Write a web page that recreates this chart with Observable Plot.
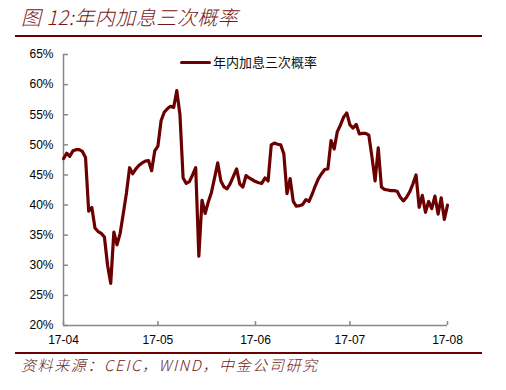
<!DOCTYPE html>
<html><head><meta charset="utf-8">
<script src="https://cdn.jsdelivr.net/npm/d3@7"></script>
<script src="https://cdn.jsdelivr.net/npm/@observablehq/plot@0.6"></script>
<style>
body{margin:0;background:#fff;}
#wrap{position:relative;width:506px;height:390px;overflow:hidden;font-family:"Liberation Sans",Arial,sans-serif;}
#wrap svg{position:absolute;left:0;top:0;}
.title{position:absolute;left:21px;top:3px;font-size:20px;font-style:italic;color:#7a1616;font-family:"Noto Sans CJK SC",sans-serif;white-space:nowrap;line-height:28px;letter-spacing:0.5px;font-weight:300;}
.rule{position:absolute;left:15px;width:467px;height:2px;background:#6b0000;}
.caption{position:absolute;left:21px;top:354px;font-size:15px;font-style:italic;color:#6e1a1a;font-family:"Noto Sans CJK SC",sans-serif;white-space:nowrap;line-height:22px;letter-spacing:1.6px;font-weight:300;}
.leg-line{position:absolute;left:180px;top:61px;width:31px;height:3px;background:#6b0000;border-radius:2px;}
.leg-text{position:absolute;left:213px;top:53px;font-size:13px;color:#111;font-family:"Noto Sans CJK SC",sans-serif;white-space:nowrap;line-height:18px;}
</style>
</head><body>
<div id="wrap"></div>
<script>
const titleText = "图 12:年内加息三次概率";
const captionText = "资料来源：CEIC，WIND，中金公司研究";
const seriesName = "年内加息三次概率";

// daily values (%), index = day of month - 1
const aprValues = [47.7,48.6,48.1,49.0,49.2,49.2,48.9,47.9,39.0,39.6,36.2,35.6,35.3,34.7,30.0,27.0,35.5,33.4,35.3,38.6,42.0,46.2,45.2,46.0,46.6,47.0,47.3,47.4,45.7,49.0];
const mayValues = [49.8,54.0,55.4,56.0,56.4,56.2,59.0,55.0,44.5,43.6,43.9,45.0,46.2,31.5,40.8,38.6,40.5,42.1,44.5,47.0,44.0,43.0,42.7,43.6,44.8,46.0,43.5,43.0,44.9,44.5,44.2];
const junValues = [43.9,43.7,43.6,44.5,44.0,50.0,50.3,50.1,50.0,48.5,41.9,44.4,40.6,39.8,39.9,40.1,40.9,40.6,41.8,43.2,44.4,45.2,45.9,46.0,50.7,49.3,52.2,53.3,54.6,55.3];
const julValues = [53.3,52.8,53.4,51.8,51.9,51.9,51.6,48.0,44.0,49.5,43.0,42.6,42.5,42.4,42.4,42.3,41.3,40.7,41.3,42.2,43.5,45.0,39.6,41.6,38.8,40.6,39.4,41.5,38.5,41.2,37.6];
const augValues = [40.0];

const yTicks = [20,25,30,35,40,45,50,55,60,65];
const xTickLabels = ["17-04","17-05","17-06","17-07","17-08"];

const months = [[3,aprValues],[4,mayValues],[5,junValues],[6,julValues],[7,augValues]];
const data = [];
for (const [m, vals] of months) vals.forEach((v,i) => data.push({date: new Date(Date.UTC(2017, m, i+1)), value: v}));
const xTicks = xTickLabels.map(s => new Date(Date.UTC(2000 + +s.slice(0,2), +s.slice(3)-1, 1)));

const axisColor = "#888";
const chart = Plot.plot({
  width: 506, height: 390,
  marginLeft: 63, marginRight: 59, marginTop: 54, marginBottom: 65,
  style: {fontFamily: "'Liberation Sans', Arial, sans-serif", fontSize: "12px", color: "#000", background: "transparent"},
  x: {type: "utc", domain: [xTicks[0], xTicks[xTicks.length-1]]},
  y: {domain: [20, 65]},
  marks: [
    Plot.ruleX([xTicks[0]], {stroke: axisColor, strokeWidth: 1.5}),
    Plot.ruleY([20], {stroke: axisColor, strokeWidth: 1.5}),
    Plot.axisY({ticks: yTicks, tickSize: -5, tickFormat: () => "", stroke: axisColor, strokeWidth: 1.5, label: null}),
    Plot.axisY({ticks: yTicks, tickSize: 0, tickPadding: 10, tickFormat: d => d + "%", fill: "#000", fontSize: 12, label: null}),
    Plot.axisX({ticks: xTicks, tickSize: -4, tickFormat: () => "", stroke: axisColor, strokeWidth: 1.5, label: null}),
    Plot.axisX({ticks: xTicks, tickSize: 0, tickPadding: 10, tickFormat: (d,i) => xTickLabels[i], fill: "#000", fontSize: 12, label: null}),
    Plot.lineY(data, {x: "date", y: "value", stroke: "#6b0000", strokeWidth: 3.2, strokeLinejoin: "round", strokeLinecap: "round"})
  ]
});
const wrap = document.getElementById("wrap");
wrap.appendChild(chart);
function add(cls, text, top) {
  const d = document.createElement("div");
  d.className = cls;
  if (text) d.textContent = text;
  if (top !== undefined) d.style.top = top + "px";
  wrap.appendChild(d);
}
add("title", titleText);
add("rule", null, 35);
add("rule", null, 352);
add("caption", captionText);
add("leg-line");
add("leg-text", seriesName);
</script>
</body></html>
